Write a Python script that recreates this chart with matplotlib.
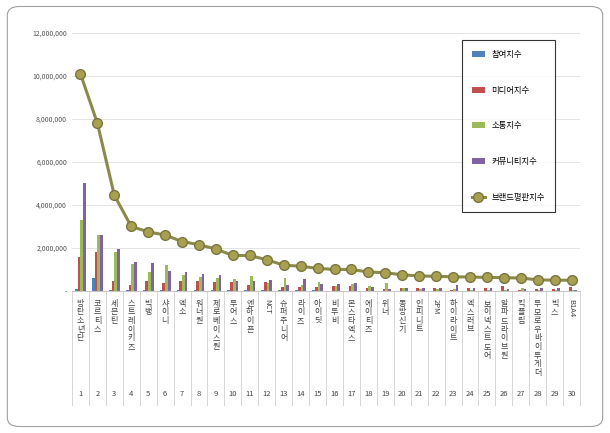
import numpy as np
import matplotlib.pyplot as plt
from matplotlib.patches import FancyBboxPatch

plt.rcParams['font.family'] = ['Noto Sans CJK KR', 'DejaVu Sans']

names = ['방탄소년단', '코르티스', '세븐틴', '스트레이키즈', '빅뱅', '샤이니', '엑소', '워너원',
         '제로베이스원', '투어스', '엔하이픈', 'NCT', '슈퍼주니어', '라이즈', '아이딧', '비투비',
         '몬스타엑스', '에이티즈', '위너', '동방신기', '인피니트', '2PM', '하이라이트', '엑스러브',
         '보이넥스트도어', '알파드라이브원', '킥플립', '투모로우바이투게더', '빅스', 'B1A4']
participation = [100000, 600000, 50000, 30000, 30000, 30000, 30000, 30000, 30000, 30000,
                 30000, 30000, 30000, 30000, 30000, 20000, 20000, 20000, 20000, 20000,
                 20000, 20000, 20000, 20000, 20000, 20000, 20000, 20000, 20000, 20000]
media = [1600000, 1800000, 450000, 300000, 450000, 350000, 450000, 450000, 400000, 420000,
         300000, 400000, 200000, 200000, 200000, 250000, 250000, 150000, 100000, 150000,
         150000, 120000, 50000, 150000, 150000, 250000, 50000, 100000, 100000, 200000]
communication = [3300000, 2600000, 1800000, 1250000, 900000, 1200000, 750000, 650000, 600000, 550000,
                 700000, 380000, 600000, 280000, 400000, 250000, 320000, 250000, 350000, 150000,
                 100000, 100000, 100000, 50000, 50000, 50000, 150000, 50000, 50000, 50000]
community = [5000000, 2600000, 1950000, 1350000, 1300000, 950000, 900000, 800000, 750000, 450000,
             450000, 500000, 300000, 550000, 320000, 320000, 350000, 200000, 100000, 150000,
             150000, 120000, 300000, 150000, 150000, 100000, 100000, 120000, 120000, 50000]
reputation = [10100000, 7800000, 4450000, 3000000, 2750000, 2600000, 2300000, 2150000, 1950000, 1650000,
              1650000, 1450000, 1200000, 1150000, 1050000, 1000000, 1000000, 880000, 850000, 750000,
              700000, 680000, 660000, 650000, 630000, 620000, 600000, 520000, 500000, 500000]
series_labels = ['참여지수', '미디어지수', '소통지수', '커뮤니티지수', '브랜드평판지수']
colors = ['#4f81bd', '#c0504d', '#9bbb59', '#8064a2']

fig = plt.figure(figsize=(6.1, 4.33), dpi=100)
fig.patches.append(FancyBboxPatch((0.012, 0.015), 0.976, 0.97, boxstyle='round,pad=0,rounding_size=0.02',
                                  transform=fig.transFigure, fill=False, edgecolor='#a0a0a0', lw=0.8))
ax = fig.add_axes([0.118, 0.328, 0.833, 0.596])

x = np.arange(1, len(names) + 1)
w = 0.16
handles = []
for i, (vals, c) in enumerate(zip([participation, media, communication, community], colors)):
    handles.append(ax.bar(x + (i - 1.5) * w, vals, width=w, color=c, label=series_labels[i], edgecolor='none'))
line, = ax.plot(x, reputation, color='#8b8a4a', lw=2.2, marker='o', markersize=7,
                markerfacecolor='#a8a050', markeredgecolor='#7a7640', label=series_labels[4])
handles.append(line)

ax.set_xlim(0.5, len(names) + 0.5)
ax.set_ylim(0, 12000000)
ax.set_yticks(np.arange(0, 12000001, 2000000))
ax.set_yticklabels([f'{v:,}' if v else '-' for v in range(0, 12000001, 2000000)], fontsize=5, color='#555555')
ax.grid(axis='y', color='#e4e4e4', lw=0.7)
ax.set_axisbelow(True)
for s in ['top', 'right', 'left']:
    ax.spines[s].set_visible(False)
ax.spines['bottom'].set_color('#c8c8c8')
ax.tick_params(length=0)
ax.set_xticks([])

for xi, n in zip(x, names):
    if n.isascii():
        ax.text(xi, -0.03, n, rotation=270, ha='center', va='top', fontsize=5.5,
                transform=ax.get_xaxis_transform(), color='#444444')
    else:
        ax.text(xi, -0.03, '\n'.join(n), ha='center', va='top', fontsize=5.8, linespacing=0.95,
                transform=ax.get_xaxis_transform(), color='#444444')
    ax.text(xi, -0.40, str(xi), ha='center', va='center', fontsize=5.5,
            transform=ax.get_xaxis_transform(), color='#444444')
for xb in np.arange(0.5, len(names) + 1, 1):
    ax.plot([xb, xb], [0, -0.44], color='#d0d0d0', lw=0.6, transform=ax.get_xaxis_transform(), clip_on=False)

leg = ax.legend(handles=handles, labels=series_labels, loc='upper left', bbox_to_anchor=(0.768, 0.973),
                fontsize=6, frameon=True, fancybox=False, edgecolor='black', labelspacing=3.2,
                borderpad=1.2, handlelength=1.5, borderaxespad=0)
leg.get_frame().set_linewidth(0.8)

fig.savefig('out.png', dpi=100)
